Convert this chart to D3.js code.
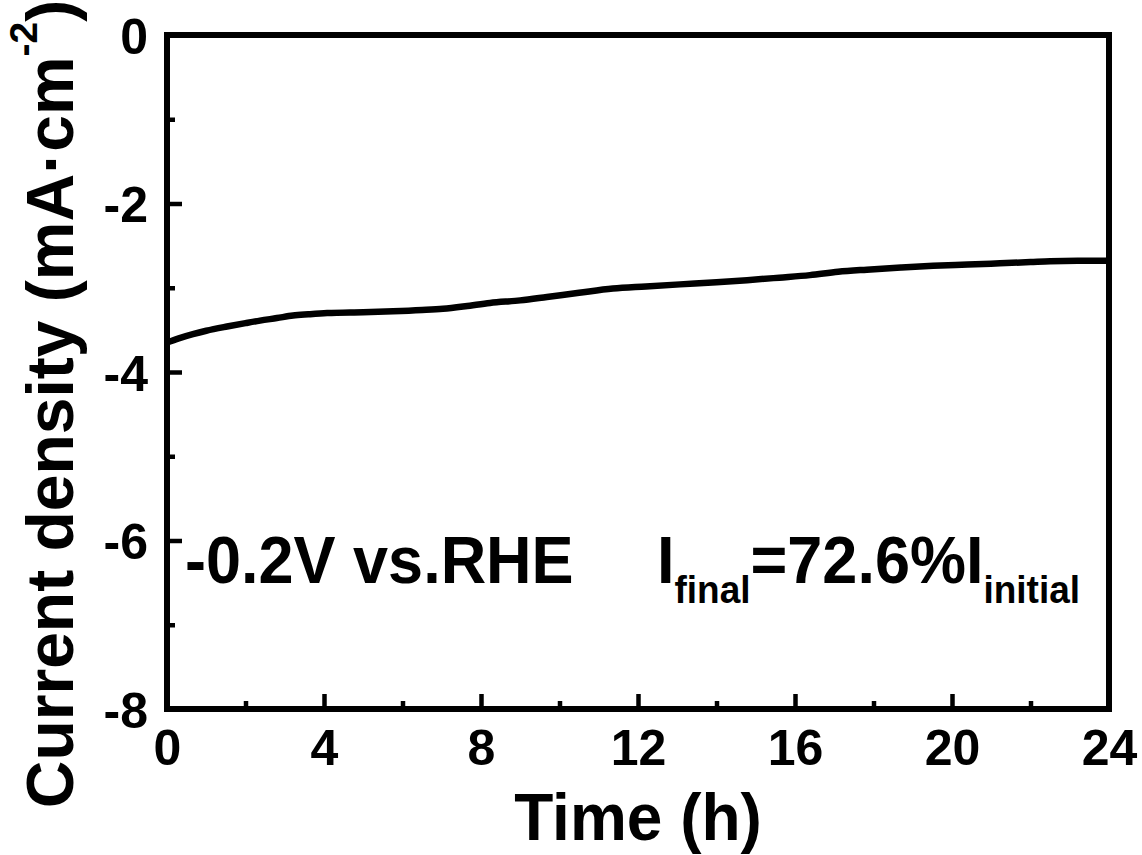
<!DOCTYPE html>
<html>
<head>
<meta charset="utf-8">
<script src="https://cdn.jsdelivr.net/npm/d3@7"></script>
<style>
  html, body { margin: 0; padding: 0; background: #fff; }
  svg { display: block; }
  text { font-family: Arial, "Liberation Sans", Helvetica, sans-serif; font-weight: bold; fill: #000; }
</style>
</head>
<body>
<svg id="chart" width="1142" height="855"></svg>
<script>
// ---- data ----
const timeH = [0, 0.3, 0.66, 1.0, 1.53, 2.0, 2.37, 2.8, 3.21, 3.6, 4.08, 5.0, 5.76, 6.5, 7.03, 7.6, 8.23, 9.0, 9.68, 10.5, 11.36, 12.2, 13.07, 14.0, 14.78, 15.6, 16.38, 17.1, 17.83, 18.7, 19.52, 20.4, 21.22, 22.0, 22.5, 23.2, 24];
const currentDensity = [-3.65, -3.60, -3.55, -3.51, -3.46, -3.42, -3.39, -3.36, -3.33, -3.315, -3.30, -3.29, -3.28, -3.265, -3.25, -3.22, -3.18, -3.15, -3.11, -3.06, -3.01, -2.985, -2.96, -2.935, -2.91, -2.88, -2.85, -2.81, -2.785, -2.76, -2.74, -2.725, -2.71, -2.695, -2.685, -2.68, -2.68];
const xMajorTicks = [0, 4, 8, 12, 16, 20, 24];
const xMinorTicks = [2, 6, 10, 14, 18, 22];
const yMajorTicks = [0, -2, -4, -6, -8];
const yMinorTicks = [-1, -3, -5, -7];
const xTitle = "Time (h)";
const annotationLeft = "-0.2V vs.RHE";

const data = timeH.map((t, i) => ({ t, j: currentDensity[i] }));
const fmt = d => String(d); // plain hyphen-minus as in the reference

const svg = d3.select("#chart");
const L = 167, R = 1109, T = 35, B = 709;

const x = d3.scaleLinear().domain([0, 24]).range([L, R]);
const y = d3.scaleLinear().domain([-8, 0]).range([B, T]);

// minor ticks
svg.append("g").attr("transform", `translate(0,${B})`)
  .call(d3.axisBottom(x).tickValues(xMinorTicks).tickSizeInner(-8).tickSizeOuter(0).tickFormat(""))
  .call(g => g.select(".domain").remove())
  .call(g => g.selectAll("line").attr("stroke", "#000").attr("stroke-width", 4.5));
svg.append("g").attr("transform", `translate(${L},0)`)
  .call(d3.axisLeft(y).tickValues(yMinorTicks).tickSizeInner(-8).tickSizeOuter(0).tickFormat(""))
  .call(g => g.select(".domain").remove())
  .call(g => g.selectAll("line").attr("stroke", "#000").attr("stroke-width", 4.5));

// major ticks + labels
const xAxis = svg.append("g").attr("transform", `translate(0,${B})`)
  .call(d3.axisBottom(x).tickValues(xMajorTicks).tickSizeInner(-15).tickSizeOuter(0).tickPadding(20).tickFormat(fmt))
  .call(g => g.select(".domain").remove());
xAxis.attr("font-family", null).attr("font-size", 50);
xAxis.selectAll("line").attr("stroke", "#000").attr("stroke-width", 4.5);
xAxis.selectAll("text").attr("fill", "#000");

const yAxis = svg.append("g").attr("transform", `translate(${L},0)`)
  .call(d3.axisLeft(y).tickValues(yMajorTicks).tickSizeInner(-15).tickSizeOuter(0).tickPadding(19).tickFormat(fmt))
  .call(g => g.select(".domain").remove());
yAxis.attr("font-family", null).attr("font-size", 50);
yAxis.selectAll("line").attr("stroke", "#000").attr("stroke-width", 4.5);
yAxis.selectAll("text").attr("fill", "#000").attr("dy", "0.36em");

// data line
svg.append("path").datum(data)
  .attr("fill", "none").attr("stroke", "#000").attr("stroke-width", 6.5)
  .attr("stroke-linejoin", "round").attr("stroke-linecap", "butt")
  .attr("d", d3.line().x(d => x(d.t)).y(d => y(d.j)).curve(d3.curveMonotoneX));

// frame
svg.append("rect").attr("x", L).attr("y", T).attr("width", R - L).attr("height", B - T)
  .attr("fill", "none").attr("stroke", "#000").attr("stroke-width", 6);

// annotations (slightly taller glyphs, as in the reference)
svg.append("text").attr("transform", "translate(185,583) scale(1,1.07)").attr("font-size", 63).text(annotationLeft);
const ann = svg.append("text").attr("transform", "translate(657,583) scale(1,1.07)").attr("font-size", 63);
ann.append("tspan").text("I");
ann.append("tspan").attr("font-size", 37).attr("dy", 19).text("final");
ann.append("tspan").attr("dy", -19).text("=72.6%I");
ann.append("tspan").attr("font-size", 37).attr("dy", 19).text("initial");

// axis titles
svg.append("text").attr("transform", `translate(${(L + R) / 2},840) scale(1,1.05)`).attr("text-anchor", "middle")
  .attr("font-size", 64).text(xTitle);
const yt = svg.append("text").attr("transform", `translate(73,404) rotate(-90)`)
  .attr("text-anchor", "middle").attr("font-size", 66);
yt.append("tspan").text("Current density (mA\u00B7cm");
yt.append("tspan").attr("font-size", 39).attr("dy", -36).text("-2");
yt.append("tspan").attr("dy", 36).text(")");
</script>
</body>
</html>
